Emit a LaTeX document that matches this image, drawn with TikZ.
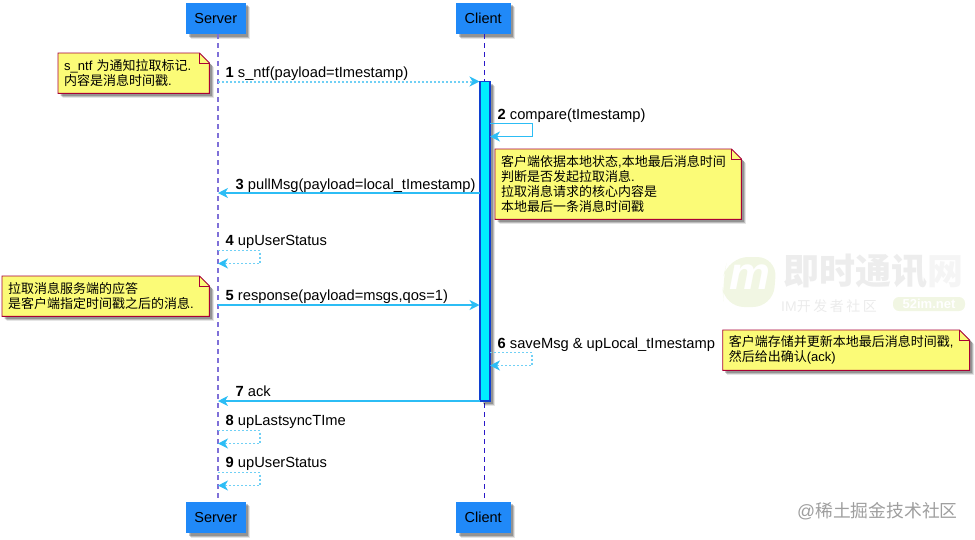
\documentclass[tikz,border=0pt]{standalone}
\usepackage{fontspec}
\setmainfont{Liberation Sans}
\newfontfamily\cjk{Noto Sans CJK SC}
\newfontfamily\cjkwide[LetterSpace=18]{Noto Sans CJK SC}
\usetikzlibrary{positioning,calc,arrows.meta,shadows,backgrounds}
\definecolor{actorblue}{HTML}{2089F8}
\definecolor{lineblue}{HTML}{2CBDF5}
\definecolor{dotblue}{HTML}{70D0F5}
\definecolor{notefill}{HTML}{FBFB77}
\definecolor{noteedge}{HTML}{A80036}
\definecolor{wmgreen}{HTML}{F1F6E3}
\definecolor{wmgrey}{HTML}{EDEDED}
\definecolor{cyanbar}{HTML}{00EEFF}
\definecolor{barblue}{HTML}{1040D0}
\definecolor{srvline}{HTML}{7F70D8}
\definecolor{cliline}{HTML}{2A18C8}
\tikzset{
  softshadow/.style={
    drop shadow={shadow xshift=4.5pt,shadow yshift=-4.5pt,fill=black,opacity=.10},
    drop shadow={shadow xshift=3.5pt,shadow yshift=-3.5pt,fill=black,opacity=.18},
    drop shadow={shadow xshift=2.5pt,shadow yshift=-2.5pt,fill=black,opacity=.22}},
  actorbox/.style={rectangle,fill=actorblue,minimum height=31.5pt,inner sep=0pt,font=\fontsize{14.5}{16}\selectfont,softshadow},
  msglabel/.style={anchor=base west,inner sep=0pt,font=\fontsize{14.7}{16}\selectfont},
  notebox/.style={anchor=north west,rectangle,inner xsep=6pt,inner ysep=0pt,align=left,font=\fontsize{13}{15}\selectfont},
  noteline/.style={draw=noteedge,line width=.9pt,fill=notefill,softshadow},
  msgtip/.style={-{Stealth[length=10pt,width=10pt,inset=3pt,color=lineblue]}},
  msgsolid/.style={msgtip,draw=lineblue,line width=1.3pt},
  msgdot/.style={msgtip,draw=dotblue,line width=2pt,dash pattern=on 2pt off 2pt},
  selfsolid/.style={msgtip,draw=lineblue,line width=1pt},
  selfdash/.style={msgtip,draw=dotblue,line width=1.2pt,dash pattern=on 2pt off 2pt},
}
\newcommand{\notefold}[1]{%
  \begin{scope}[on background layer]
    \path[noteline] (#1.north west)--($(#1.north east)+(-10,0)$)--($(#1.north east)+(0,10)$)--(#1.south east)--(#1.south west)--cycle;
    \draw[draw=noteedge,line width=.9pt] ($(#1.north east)+(-10,0)$)--++(0,10)--++(10,0);
  \end{scope}}
\begin{document}
\begin{tikzpicture}[x=1pt,y=-1pt]
  \useasboundingbox (0,0) rectangle (975,539);
  % watermarks
  \fill[wmgreen,rounded corners=20pt] (722,282)--(728,257)--(777,257)--(773,307)--(724,307)--cycle;
  \node[font=\bfseries\itshape\fontsize{46}{46}\selectfont,text=white] (wmlogo) at (750,277) {m};
  \node[anchor=west,inner sep=0pt,text=wmgrey,font=\cjk\bfseries\fontsize{36}{36}\selectfont] (wmname) at (783,271.5) {即时通讯{\color{black!4}网}};
  \node[anchor=west,inner sep=0pt,text=black!8,font=\fontsize{14}{14}\selectfont] (wmsub) at (781,306) {IM{\cjkwide 开发者社区}};
  \node[anchor=center,rectangle,rounded corners=6pt,fill=wmgreen,text=white,minimum width=72pt,minimum height=14pt,inner sep=0pt,font=\bfseries\fontsize{13}{13}\selectfont] (wmsite) at (929,304) {52im.net};
  \node[anchor=west,inner sep=0pt,text=black!38,font=\fontsize{17.8}{18}\selectfont] (wmjuejin) at (797,511) {@{\cjk 稀土掘金技术社区}};
  % actors
  \node[actorbox,minimum width=59.5pt] (srvtop) at (215.75,18.25) {Server};
  \node[actorbox,minimum width=54.5pt] (clitop) at (483.25,18.25) {Client};
  \node[actorbox,minimum width=59.5pt] (srvbot) at (215.75,517.25) {Server};
  \node[actorbox,minimum width=54.5pt] (clibot) at (483.25,517.25) {Client};
  \coordinate (srvin) at (218,34);
  \coordinate (srvout) at (218,501.5);
  \coordinate (cliin) at (484,34);
  \coordinate (cliout) at (484,501.5);
  \draw[draw=srvline,line width=1.4pt,dash pattern=on 5pt off 4pt] (srvin)--(srvout);
  \draw[draw=cliline,line width=.9pt,dash pattern=on 5pt off 4pt] (cliin)--(cliout);
  % activation
  \node[rectangle,draw=barblue,line width=1.3pt,fill=cyanbar,minimum width=10pt,minimum height=319.5pt,inner sep=0pt,softshadow] (act) at (485,241.25) {};
  % messages
  \foreach \n/\y in {1/81.5,3/193,5/305,7/401}{
    \coordinate (s\n) at (218,\y);
    \coordinate (c\n) at (479.5,\y);
  }
  \draw[msgdot] (s1)--(c1);
  \draw[msgsolid] (c3)--(s3);
  \draw[msgsolid] (s5)--(c5);
  \draw[msgsolid] (c7)--(s7);
  \coordinate (a2) at (490,123.5);
  \coordinate (b2) at (490,136.5);
  \coordinate (a6) at (490,352.5);
  \coordinate (b6) at (490,365.5);
  \coordinate (a4) at (218,250.5);
  \coordinate (b4) at (218,263.5);
  \coordinate (a8) at (218,430.5);
  \coordinate (b8) at (218,443.5);
  \coordinate (a9) at (218,472.5);
  \coordinate (b9) at (218,485.5);
  \draw[selfsolid] (a2)--++(42,0)--++(0,13)--(b2);
  \foreach \n in {4,6,8,9}{
    \draw[selfdash] (a\n)--++(42,0)--++(0,13)--(b\n);
  }
  % labels
  \foreach \n/\x/\y/\t in {1/225.5/77/s\_ntf(payload=tImestamp),
      2/497.5/119/compare(tImestamp),
      3/235.5/189/pullMsg(payload=local\_tImestamp),
      4/225.5/245/upUserStatus,
      5/225.5/300.3/{response(payload=msgs,qos=1)},
      6/497.5/348/saveMsg \& upLocal\_tImestamp,
      7/235.5/396/ack,
      8/225.5/425.3/upLastsyncTIme,
      9/225.5/467.3/upUserStatus}{
    \node[msglabel] (lab\n) at (\x,\y) {\textbf{\n} \t};
  }
  % notes
  \node[notebox,minimum width=151pt,minimum height=40pt,text width=139pt] (ntfnote) at (58,53)
    {s\_ntf {\cjk 为通知拉取标记}.\\{\cjk 内容是消息时间戳}.};
  \node[notebox,minimum width=246pt,minimum height=70pt,text width=234pt] (pullnote) at (495,149)
    {{\cjk 客户端依据本地状态},{\cjk 本地最后消息时间}\\{\cjk 判断是否发起拉取消息}.\\{\cjk 拉取消息请求的核心内容是}\\{\cjk 本地最后一条消息时间戳}};
  \node[notebox,minimum width=207pt,minimum height=40pt,text width=195pt] (respnote) at (2,276)
    {{\cjk 拉取消息服务端的应答}\\{\cjk 是客户端指定时间戳之后的消息}.};
  \node[notebox,minimum width=246.5pt,minimum height=40pt,text width=234.5pt] (savenote) at (722.7,330)
    {{\cjk 客户端存储并更新本地最后消息时间戳},\\{\cjk 然后给出确认}(ack)};
  \notefold{ntfnote}
  \notefold{pullnote}
  \notefold{respnote}
  \notefold{savenote}
\end{tikzpicture}
\end{document}
